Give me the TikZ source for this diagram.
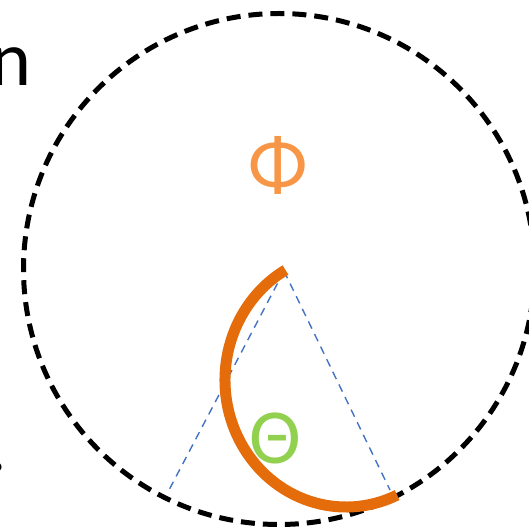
\documentclass[tikz,border=0pt]{standalone}
\usepackage{fontspec}
\usetikzlibrary{calc}
\setmainfont{Carlito}
\definecolor{arcorange}{HTML}{E46C0A}
\definecolor{phiorange}{HTML}{F79646}
\definecolor{thetagreen}{HTML}{92D050}
\definecolor{rayblue}{HTML}{4472C4}
\begin{document}
\begin{tikzpicture}[x=1pt,y=1pt,
  bigtext/.style={font=\fontsize{78}{90}\selectfont, inner sep=0pt},
  ray/.style={rayblue, line width=1.4pt, dash pattern=on 8pt off 6pt},
  outline/.style={black, line width=5pt, dash pattern=on 14pt off 8pt},
  arcstroke/.style={arcorange, line width=11pt}]
\useasboundingbox (0,0) rectangle (529,528);
\clip (0,0) rectangle (529,528);
\node[draw, outline, circle, minimum size=511pt, inner sep=0pt] (c) at (279,259) {};
\coordinate (apex) at (284,257);
\coordinate (lend) at (169,38);
\coordinate (rend) at (390,38);
\draw[ray] (apex) -- (lend);
\draw[ray] (apex) -- (rend);
\coordinate (arcstart) at ($(346,148)+(120:121 and 127)$);
\draw[arcstroke] (arcstart) arc[start angle=120, end angle=295, x radius=121, y radius=127];
\node[bigtext, text=phiorange] (phi) at (278,363) {Φ};
\node[bigtext, text=thetagreen] (theta) at (275,90) {Θ};
\node[bigtext, anchor=base west] (n) at (-10,442) {n};
\node[bigtext, anchor=base west] (dot) at (-13,57) {.};
\end{tikzpicture}
\end{document}
